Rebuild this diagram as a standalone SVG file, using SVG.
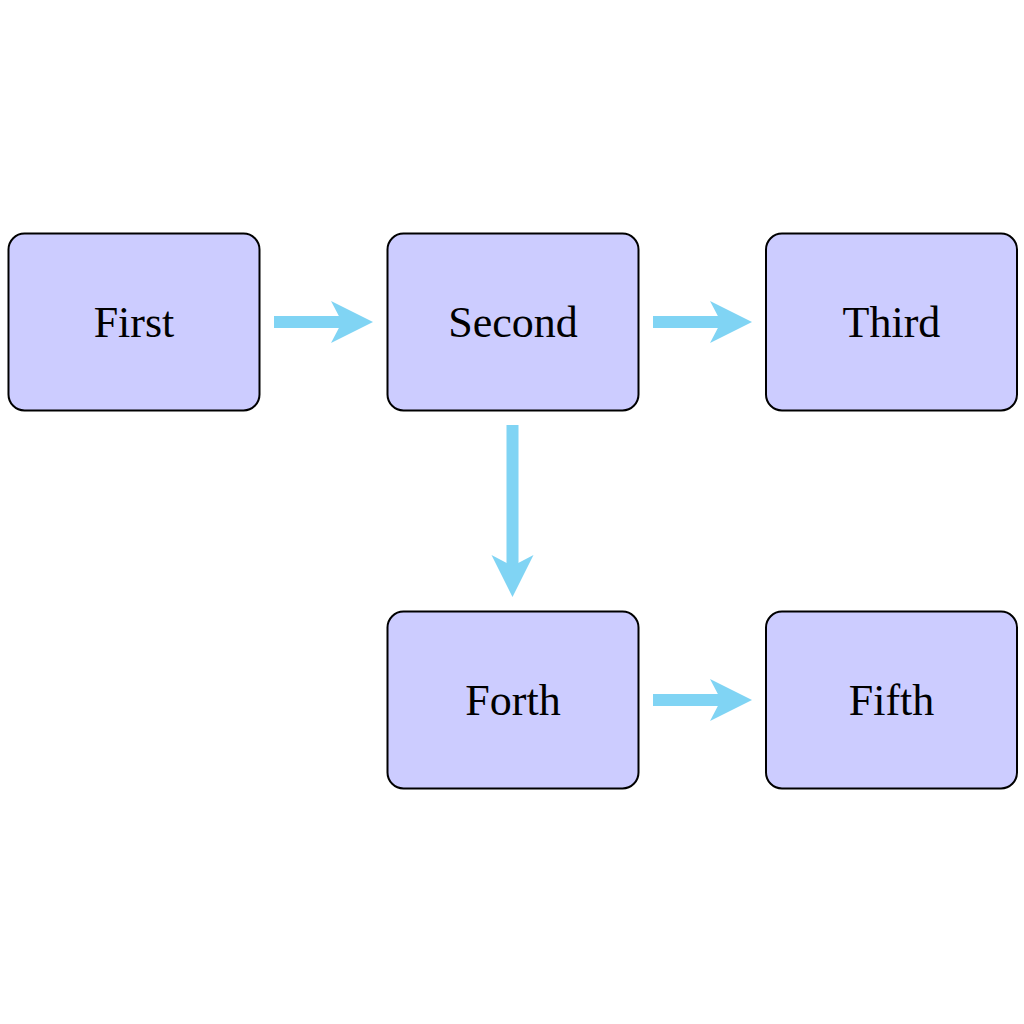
<svg xmlns="http://www.w3.org/2000/svg" width="1024" height="1024" viewBox="0 0 1024 1024">
<style>
.box{fill:#ccccff;stroke:#000;stroke-width:2}
.lbl{font-family:"Liberation Serif","DejaVu Serif",serif;font-size:44px;fill:#000;text-anchor:middle}
.conn{stroke:#80d4f4;stroke-width:12;fill:none}
</style>
<defs>
<marker id="ah" viewBox="-43 -22 44 44" refX="-31" refY="0" markerWidth="44" markerHeight="44" markerUnits="userSpaceOnUse" orient="auto">
<path d="M0,0 L-42,-21 L-31,0 L-42,21 Z" fill="#80d4f4"/>
</marker>
</defs>
<rect width="1024" height="1024" fill="#fff"/>
<g id="connectors">
<line class="conn" x1="274" y1="322" x2="342" y2="322" marker-end="url(#ah)"/>
<line class="conn" x1="653" y1="322" x2="721" y2="322" marker-end="url(#ah)"/>
<line class="conn" x1="512.5" y1="425" x2="512.5" y2="566" marker-end="url(#ah)"/>
<line class="conn" x1="653" y1="700" x2="721" y2="700" marker-end="url(#ah)"/>
</g>
<g id="first"><rect class="box" x="8.5" y="233.5" width="251" height="177" rx="16"/><text class="lbl" x="134" y="337">First</text></g>
<g id="second"><rect class="box" x="387.5" y="233.5" width="251" height="177" rx="16"/><text class="lbl" x="513" y="337">Second</text></g>
<g id="third"><rect class="box" x="766" y="233.5" width="251" height="177" rx="16"/><text class="lbl" x="891.5" y="337">Third</text></g>
<g id="forth"><rect class="box" x="387.5" y="611.5" width="251" height="177" rx="16"/><text class="lbl" x="513" y="715">Forth</text></g>
<g id="fifth"><rect class="box" x="766" y="611.5" width="251" height="177" rx="16"/><text class="lbl" x="891.5" y="715">Fifth</text></g>
</svg>
